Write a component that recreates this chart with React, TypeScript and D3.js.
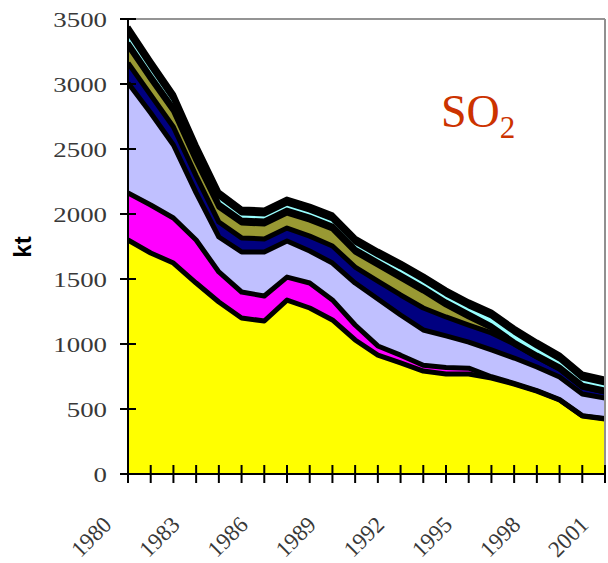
import React from "react";
import * as d3 from "d3";

const years = [1980,1981,1982,1983,1984,1985,1986,1987,1988,1989,1990,1991,1992,1993,1994,1995,1996,1997,1998,1999,2000,2001];
const yellow = [1800,1700,1623,1469,1323,1200,1177,1338,1277,1185,1031,915,854,792,769,769,738,692,638,569,446,423];
const magenta = [362,369,346,331,231,200,192,177,192,154,115,70,60,45,50,45,10,5,4,3,3,3];
const lavender = [846,708,562,362,269,308,339,277,246,284,323,361,309,271,243,201,206,195,181,174,166,159];
const navy = [154,138,138,131,115,108,100,100,115,131,123,138,154,169,146,131,131,108,77,62,54,46];
const olive = [131,123,123,115,115,115,115,115,123,131,115,123,131,131,92,62,38,0,0,0,0,0];
const darkMid = [23,23,23,23,23,23,23,23,23,23,23,23,23,23,23,23,15,15,15,15,15,15];
const cyan = [85,77,69,69,62,54,54,54,54,54,54,54,62,62,62,62,77,77,69,62,54,54];
const darkTop = [38,38,38,31,31,31,31,31,31,31,31,31,31,31,31,31,31,31,31,31,31,31];

const keys = ["yellow","magenta","lavender","navy","olive","darkMid","cyan","darkTop"];
const colors = ["#FFFF00","#FF00FF","#C0C0FF","#000080","#999933","#000000","#99FFFF","#000000"];
const seriesValues = [yellow, magenta, lavender, navy, olive, darkMid, cyan, darkTop];
const yTicks = [0,500,1000,1500,2000,2500,3000,3500];
const xLabelYears = [1980,1983,1986,1989,1992,1995,1998,2001];

export default function App() {
  const left = 128, right = 605, top = 19, bottom = 474;
  const x = d3.scaleLinear().domain([1980, 2001]).range([left, right]);
  const y = d3.scaleLinear().domain([0, 3500]).range([bottom, top]);

  const rows = years.map((yr, i) => {
    const r: any = { year: yr };
    keys.forEach((k, j) => (r[k] = seriesValues[j][i]));
    return r;
  });
  const stacked = d3.stack<any>().keys(keys)(rows);
  const area = d3.area<any>()
    .x((d) => x(d.data.year))
    .y0((d) => y(d[0]))
    .y1((d) => y(d[1]));
  const line = d3.line<any>()
    .x((d) => x(d.data.year))
    .y((d) => y(d[1]));

  const labelFont = "Liberation Serif";

  return (
    <svg width={608} height={563} style={{ position: "absolute", left: 0, top: 0, background: "#fff" }}>
      <defs>
        <clipPath id="plotclip">
          <rect x={left} y={0} width={right - left} height={bottom} />
        </clipPath>
      </defs>
      <g clipPath="url(#plotclip)">
        {stacked.map((s, i) => (
          <path key={"a" + i} d={area(s) || ""} fill={colors[i]} stroke="none" />
        ))}
        {stacked.map((s, i) => (
          <path key={"l" + i} d={line(s) || ""} fill="none" stroke="#000" strokeWidth={5} strokeLinejoin="round" />
        ))}
      </g>
      <line x1={left} y1={top} x2={right} y2={top} stroke="#707070" strokeWidth={1.5} />
      <line x1={right} y1={top} x2={right} y2={bottom} stroke="#909090" strokeWidth={2} />
      <line x1={left} y1={top} x2={left} y2={bottom + 1} stroke="#000" strokeWidth={2} />
      <line x1={left - 1} y1={bottom} x2={right} y2={bottom} stroke="#000" strokeWidth={2} />
      {yTicks.map((t) => (
        <g key={"yt" + t}>
          <line x1={120} x2={136} y1={y(t)} y2={y(t)} stroke="#000" strokeWidth={2} />
          <g transform={`translate(107,${y(t) + 7.5}) scale(1.22,1)`}>
            <text x={0} y={0} textAnchor="end" fontFamily={labelFont} fontSize={22} fill="#383838">{t}</text>
          </g>
        </g>
      ))}
      {years.map((yr) => (
        <line key={"xt" + yr} x1={x(yr)} x2={x(yr)} y1={465} y2={483} stroke="#000" strokeWidth={2} />
      ))}
      {xLabelYears.map((yr) => (
        <g key={"xl" + yr} transform={`translate(${x(yr) - 15},526) rotate(-45)`}>
          <text x={0} y={0} textAnchor="end" fontFamily={labelFont} fontSize={23} fill="#383838">{yr}</text>
        </g>
      ))}
      <text transform="translate(31,247) rotate(-90)" textAnchor="middle" fontFamily="Liberation Sans" fontWeight="bold" fontSize={24} fill="#000">kt</text>
      <text x={441} y={127} fontFamily={labelFont} fontSize={46} fill="#CC3300">
        SO<tspan fontSize={31} dy={11}>2</tspan>
      </text>
    </svg>
  );
}
